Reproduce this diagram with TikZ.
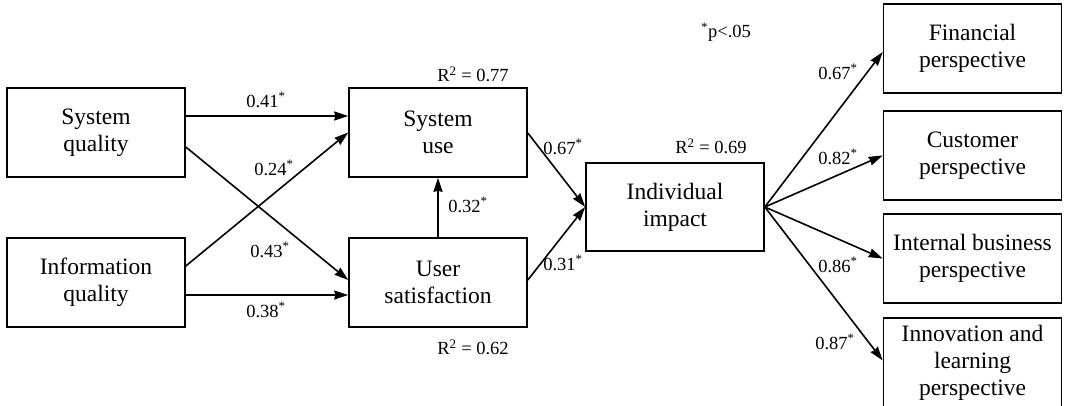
\documentclass[tikz,border=0pt]{standalone}
\usepackage{fontspec}
\setmainfont{Liberation Serif}
\newfontfamily\tnr{Liberation Serif}
\usetikzlibrary{calc,arrows.meta}
\begin{document}
\begin{tikzpicture}[x=1pt,y=-1pt,
  box/.style={draw,line width=1.6pt,minimum width=178pt,minimum height=89pt,inner sep=0pt,align=center,font=\tnr\fontsize{23.5}{27}\selectfont},
  lbl/.style={inner sep=0pt,font=\tnr\fontsize{18.5}{20}\selectfont},
  arr/.style={line width=1.6pt,-{Stealth[length=14pt,width=9pt,inset=1pt]}}]
\useasboundingbox (0,0) rectangle (1066,406);
\node[box] (sq) at (96,132.5) {System\\quality};
\node[box] (iq) at (96,282.5) {Information\\quality};
\node[box] (su) at (438,132.5) {System\\use};
\node[box] (us) at (438,282.5) {User\\satisfaction};
\node[box,minimum height=88pt] (ii) at (675,207) {Individual\\impact};
\node[box] (fp) at (972.5,48.5) {Financial\\perspective};
\node[box] (cp) at (972.5,155.5) {Customer\\perspective};
\node[box] (ib) at (972.5,258.5) {Internal business\\perspective};
\node[box] (il) at (972.5,362.5) {Innovation and\\learning\\perspective};
\draw[arr] ($(sq.east)+(0,-16.5)$) -- ($(su.west)+(0,-16.5)$);
\draw[arr] ($(sq.east)+(0,14.5)$) -- ($(us.west)+(0,-2.5)$);
\draw[arr] ($(iq.east)+(0,-16.5)$) -- ($(su.west)+(0,0)$);
\draw[arr] ($(iq.east)+(0,12.5)$) -- ($(us.west)+(0,12.5)$);
\draw[arr] (us.north) -- (su.south);
\draw[arr] ($(su.east)+(0,0.5)$) -- (ii.west);
\draw[arr] ($(us.east)+(0,-2.5)$) -- (ii.west);
\draw[arr] (ii.east) -- ($(fp.west)+(0,3.5)$);
\draw[arr] (ii.east) -- (cp.west);
\draw[arr] (ii.east) -- (ib.west);
\draw[arr] (ii.east) -- ($(il.west)+(0,-2)$);
\node[lbl] (l1) at (266,100) {0.41\textsuperscript{*}};
\node[lbl] (l2) at (274,168) {0.24\textsuperscript{*}};
\node[lbl] (l3) at (270,250) {0.43\textsuperscript{*}};
\node[lbl] (l4) at (266,310) {0.38\textsuperscript{*}};
\node[lbl] (l5) at (468,205) {0.32\textsuperscript{*}};
\node[lbl] (l6) at (563,147) {0.67\textsuperscript{*}};
\node[lbl] (l7) at (563,263) {0.31\textsuperscript{*}};
\node[lbl] (r1) at (473,74) {R\textsuperscript{2} = 0.77};
\node[lbl] (r2) at (473,347) {R\textsuperscript{2} = 0.62};
\node[lbl] (r3) at (711,146) {R\textsuperscript{2} = 0.69};
\node[lbl] (pv) at (726,32) {\textsuperscript{*}p<.05};
\node[lbl] (m1) at (838,72) {0.67\textsuperscript{*}};
\node[lbl] (m2) at (838,157) {0.82\textsuperscript{*}};
\node[lbl] (m3) at (838,265) {0.86\textsuperscript{*}};
\node[lbl] (m4) at (835,342) {0.87\textsuperscript{*}};
\end{tikzpicture}
\end{document}
